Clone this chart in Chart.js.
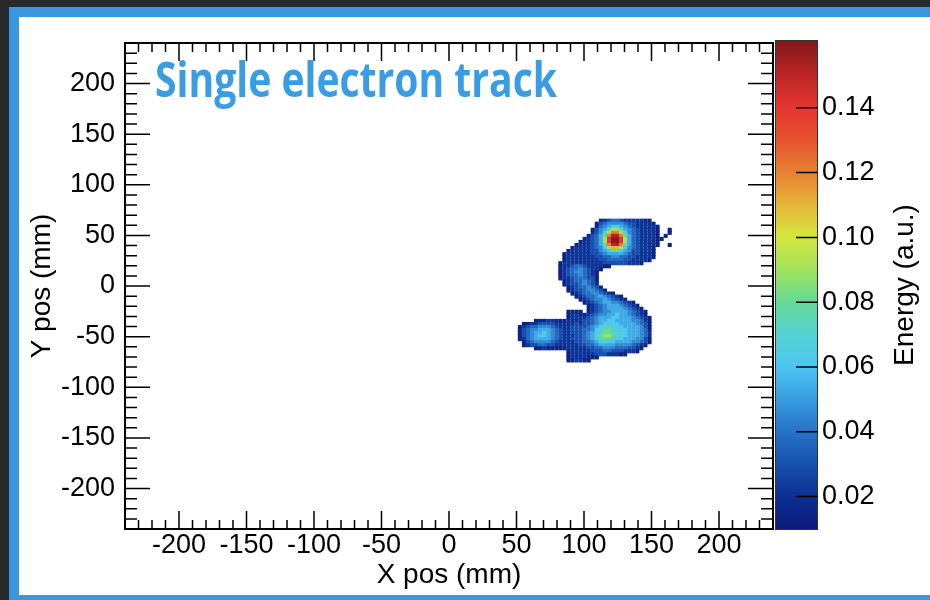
<!DOCTYPE html>
<html>
<head>
<meta charset="utf-8">
<script src="https://cdn.jsdelivr.net/npm/chart.js@4.4.1/dist/chart.umd.min.js"></script>
<style>
  html, body { margin: 0; padding: 0; background: #28292b; }
  .frame { position: absolute; left: 9px; top: 7px; width: 921px; height: 593px; background: #3897df; }
  .panel { position: absolute; left: 19px; top: 17px; width: 911px; height: 578px; background: #fff; }
  #track { position: absolute; left: 0; top: 0; }
</style>
</head>
<body>
<div class="frame"></div>
<div class="panel"></div>
<canvas id="track" width="930" height="600"></canvas>
<script>
// axis ranges and tick labels (mm / a.u.)
const axisRange = [-240, 240];
const energyRange = [0.01, 0.16];
const xTickValues = [-200, -150, -100, -50, 0, 50, 100, 150, 200];
const yTickValues = [-200, -150, -100, -50, 0, 50, 100, 150, 200];
const zTickValues = [0.02, 0.04, 0.06, 0.08, 0.10, 0.12, 0.14];

// histogram binning: 3 mm bins, first column starts at x = 51 mm, first row tops at y = 66 mm
const binSize = 3;
const firstBinX = 51;
const firstBinTopY = 66;

// energy per level code
const levelCodes = '123456789abcdefgh';
const levelEnergy = [0.015, 0.022, 0.030, 0.038, 0.046, 0.054, 0.062, 0.070, 0.080,
                     0.090, 0.100, 0.110, 0.120, 0.130, 0.140, 0.150, 0.158];

// track rows from top to bottom: [first column, level codes] ('.' = empty bin)
const trackRows = [
  [20, '1234432222211'],
  [19, '134555543322221'],
  [19, '1456776543222221'],
  [18, '13568aa8654322221..1'],
  [18, '1358adda854322221..1'],
  [17, '13469dggd964322221.1'],
  [16, '12346afhhfa643222211'],
  [15, '122346afhhfa64322221'],
  [14, '12223469dggd964322221..1'],
  [13, '122223457acca75432221'],
  [12, '1222223356799765332221'],
  [11, '12222223345666654332221'],
  [11, '12222222334455443322221'],
  [11, '1222222223344443322221'],
  [10, '122222222223333332221'],
  [10, '1223443222211'],
  [10, '12344543221'],
  [10, '1234554321'],
  [10, '1234454321'],
  [10, '1223444331'],
  [11, '123445431'],
  [11, '123345432'],
  [12, '123445431'],
  [12, '1233455431'],
  [13, '12344554321'],
  [14, '123445654321'],
  [15, '123455654321'],
  [16, '1234566554321'],
  [17, '1234566654321'],
  [17, '12345666654321'],
  [12, '1111.123455666654321'],
  [12, '12211234556676654321'],
  [12, '122223456667766654321'],
  [4,  '11122111222233456677666655421'],
  [1,  '11223333222223233456777766665431'],
  [0,  '123445554322233334567887776666531'],
  [0,  '134556665432233344578998777666541'],
  [0,  '134566765432233345678998877666542'],
  [0,  '134567765432223345689aa9877666542'],
  [0,  '124566665432233345678997776665531'],
  [1,  '13455554322223344567877666655431'],
  [1,  '1233443322222233445666655554321'],
  [4,  '112111112222233445554443321'],
  [12, '122222333443332221'],
  [12, '122222233322211'],
  [12, '12222111'],
  [12, '112211']
];

// colour palette of the z axis
const paletteStops = [
  [0.010, '#0b1a78'], [0.020, '#0c2e92'], [0.030, '#1650b0'], [0.040, '#2672c6'],
  [0.050, '#389bdf'], [0.060, '#4cc6f2'], [0.070, '#54d2d2'], [0.080, '#66da94'],
  [0.090, '#a2e25a'], [0.100, '#d6e63e'], [0.110, '#e6b23a'], [0.120, '#e67e30'],
  [0.130, '#e6502e'], [0.140, '#e43530'], [0.150, '#b82424'], [0.160, '#801818']
];

function hexRgb(h) {
  return [parseInt(h.slice(1, 3), 16), parseInt(h.slice(3, 5), 16), parseInt(h.slice(5, 7), 16)];
}

function colorFor(v) {
  for (let i = 1; i < paletteStops.length; i++) {
    const [v0, c0] = paletteStops[i - 1];
    const [v1, c1] = paletteStops[i];
    if (v <= v1 || i === paletteStops.length - 1) {
      const t = Math.max(0, Math.min(1, (v - v0) / (v1 - v0)));
      const a = hexRgb(c0), b = hexRgb(c1);
      const m = a.map((x, k) => Math.round(x + (b[k] - x) * t));
      return 'rgb(' + m.join(',') + ')';
    }
  }
}

const cells = [];
trackRows.forEach(([startCol, codes], row) => {
  for (let i = 0; i < codes.length; i++) {
    const lvl = levelCodes.indexOf(codes[i]);
    if (lvl < 0) continue;
    cells.push({
      x: firstBinX + binSize * (startCol + i + 0.5),
      y: firstBinTopY - binSize * (row + 0.5),
      v: levelEnergy[lvl]
    });
  }
});

const labelFamily = "'Liberation Sans Narrow', 'Liberation Sans', Arial, sans-serif";

// frame with ROOT style inward ticks on all four sides
const frameTicks = {
  id: 'frameTicks',
  afterDatasetsDraw(chart) {
    const {ctx, chartArea: a, scales: {x, y}} = chart;
    ctx.save();
    ctx.strokeStyle = '#000';
    ctx.lineWidth = 1.5;
    ctx.beginPath();
    for (let v = axisRange[0]; v <= axisRange[1]; v += 10) {
      const major = v % 50 === 0;
      const px = x.getPixelForValue(v);
      const lx = major ? 18 : 9;
      ctx.moveTo(px, a.bottom); ctx.lineTo(px, a.bottom - lx);
      ctx.moveTo(px, a.top); ctx.lineTo(px, a.top + lx);
      const py = y.getPixelForValue(v);
      const ly = major ? 25 : 12;
      ctx.moveTo(a.left, py); ctx.lineTo(a.left + ly, py);
      ctx.moveTo(a.right, py); ctx.lineTo(a.right - ly, py);
    }
    ctx.stroke();
    ctx.lineWidth = 2;
    ctx.strokeRect(a.left, a.top, a.right - a.left, a.bottom - a.top);
    ctx.restore();
  }
};

// colour bar, its ticks, the z title and the in-plot label
const decorations = {
  id: 'decorations',
  afterDraw(chart) {
    const {ctx, scales: {z}} = chart;
    const top = z.getPixelForValue(energyRange[1]) - 3;
    const bottom = z.getPixelForValue(energyRange[0]) + 1;
    const left = z.left + 2, right = z.left + 45;
    const g = ctx.createLinearGradient(0, bottom, 0, top);
    paletteStops.forEach(([v, c]) => {
      g.addColorStop((v - energyRange[0]) / (energyRange[1] - energyRange[0]), c);
    });
    ctx.save();
    ctx.fillStyle = g;
    ctx.fillRect(left, top, right - left, bottom - top);
    ctx.strokeStyle = '#333';
    ctx.lineWidth = 1;
    ctx.strokeRect(left + 0.5, top + 0.5, right - left - 1, bottom - top - 1);
    ctx.strokeStyle = '#000';
    ctx.lineWidth = 1.5;
    ctx.beginPath();
    zTickValues.forEach(v => {
      const py = z.getPixelForValue(v);
      ctx.moveTo(right - 22, py);
      ctx.lineTo(right, py);
    });
    ctx.stroke();

    // z axis title, reading upwards
    ctx.translate(905, (top + bottom) / 2);
    ctx.rotate(-Math.PI / 2);
    ctx.fillStyle = '#000';
    ctx.font = '28px ' + labelFamily;
    ctx.textAlign = 'center';
    ctx.textBaseline = 'middle';
    ctx.fillText('Energy (a.u.)', 0, 0);
    ctx.restore();

    // label inside the frame
    ctx.save();
    ctx.font = "bold 49px 'Open Sans', sans-serif";
    const w = ctx.measureText('Single electron track').width;
    ctx.translate(155, 97);
    ctx.scale(402 / w, 1);
    ctx.fillStyle = '#3a9de4';
    ctx.textBaseline = 'alphabetic';
    ctx.fillText('Single electron track', 0, 0);
    ctx.restore();
  }
};

// drop the half-label padding Chart.js reserves at the ends of each axis
function noEndPadding(s) {
  s.paddingTop = 0; s.paddingBottom = 0; s.paddingLeft = 0; s.paddingRight = 0;
}

const tickFont = {family: labelFamily, size: 27, lineHeight: 1.0};
const titleFont = {family: labelFamily, size: 28, lineHeight: 1.2};

new Chart(document.getElementById('track'), {
  type: 'scatter',
  data: {
    datasets: [{
      data: cells,
      backgroundColor: cells.map(c => colorFor(c.v)),
      pointStyle: 'rect',
      pointRadius: 2.9,
      borderWidth: 0
    }]
  },
  options: {
    responsive: false,
    animation: false,
    events: [],
    devicePixelRatio: 1,
    layout: {padding: {top: 43, left: 0, right: 0, bottom: 0}},
    plugins: {legend: {display: false}, tooltip: {enabled: false}},
    scales: {
      x: {
        type: 'linear', position: 'bottom',
        min: axisRange[0], max: axisRange[1],
        grid: {display: false, drawTicks: false},
        border: {display: false},
        afterBuildTicks: s => { s.ticks = xTickValues.map(v => ({value: v})); },
        afterFit: s => { s.height = 71; noEndPadding(s); },
        ticks: {font: tickFont, color: '#000', padding: 3, maxRotation: 0, autoSkip: false,
                callback: v => String(v)},
        title: {display: true, text: 'X pos (mm)', font: titleFont, color: '#000',
                padding: {top: 0, bottom: 8}}
      },
      y: {
        type: 'linear', position: 'left',
        min: axisRange[0], max: axisRange[1],
        grid: {display: false, drawTicks: false},
        border: {display: false},
        afterBuildTicks: s => { s.ticks = yTickValues.map(v => ({value: v})); },
        afterFit: s => { s.width = 125; noEndPadding(s); },
        ticks: {font: tickFont, color: '#000', padding: 10, autoSkip: false,
                callback: v => String(v)},
        title: {display: true, text: 'Y pos (mm)', font: titleFont, color: '#000',
                padding: {top: 25, bottom: 0}}
      },
      z: {
        type: 'linear', position: 'right', axis: 'y',
        min: energyRange[0], max: energyRange[1],
        grid: {display: false, drawTicks: false},
        border: {display: false},
        afterBuildTicks: s => { s.ticks = zTickValues.map(v => ({value: v})); },
        afterFit: s => { s.width = 157; noEndPadding(s); },
        ticks: {font: tickFont, color: '#000', padding: 49, autoSkip: false,
                callback: v => v.toFixed(2)}
      }
    }
  },
  plugins: [frameTicks, decorations]
});
</script>
</body>
</html>
